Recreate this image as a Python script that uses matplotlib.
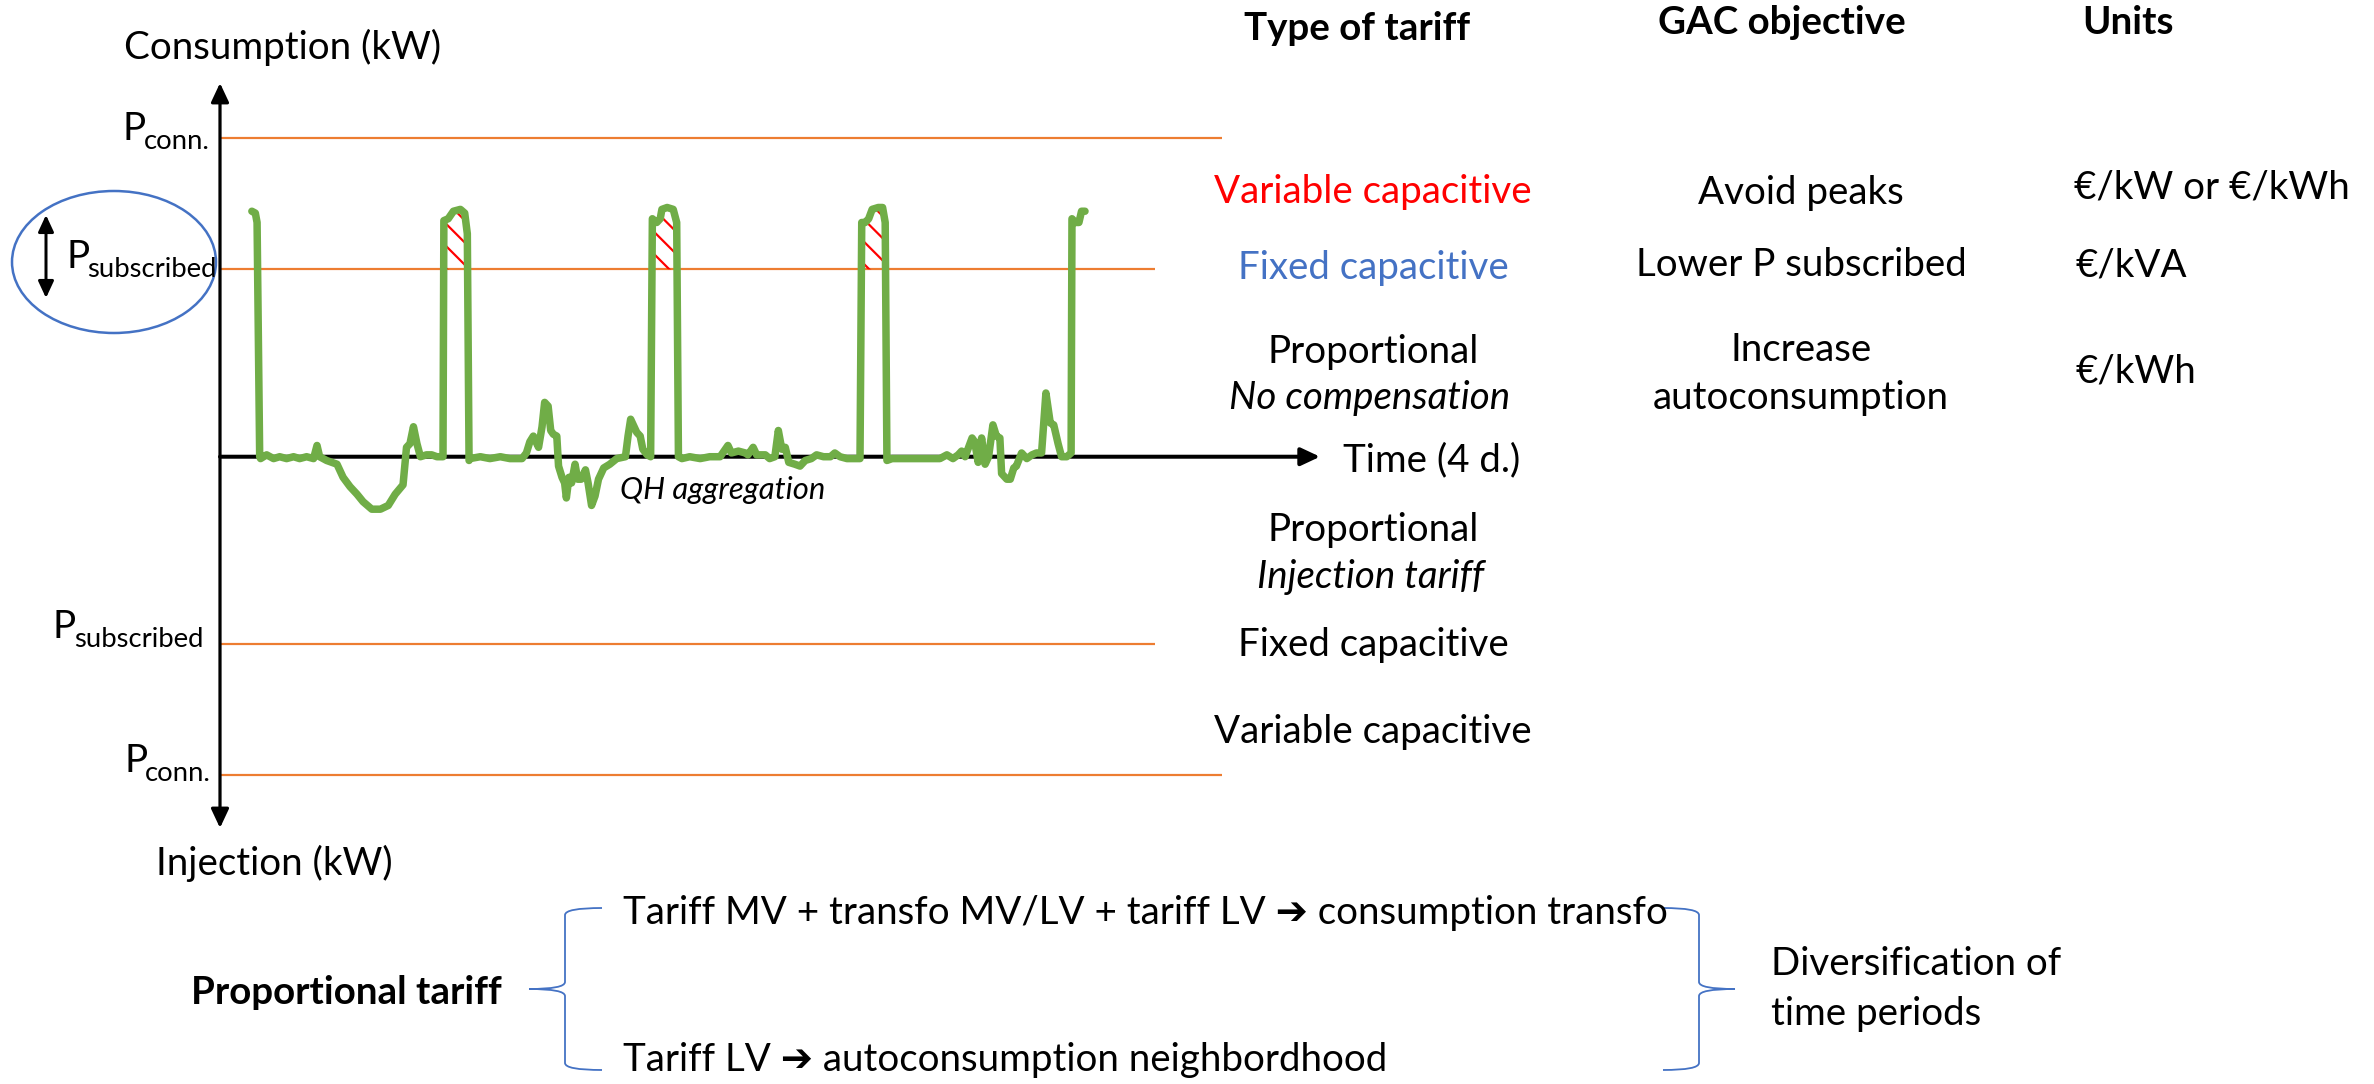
import matplotlib
matplotlib.use("Agg")
import matplotlib.pyplot as plt
from matplotlib.patches import Ellipse, PathPatch
from matplotlib.path import Path
import numpy as np

DPI = 200
W, H = 2374, 1084

plt.rcParams['font.family'] = ['Lato', 'DejaVu Sans']
plt.rcParams['hatch.color'] = 'red'
plt.rcParams['hatch.linewidth'] = 2.2 * 72 / DPI


def pt(px):
    return px * 72 / DPI


# ---------------- data ----------------
t_hours = [0.1, 0.5, 0.7, 1.0, 1.1, 1.8, 2.6, 3.3, 4.1, 4.9, 5.6, 6.4, 7.2, 7.6, 7.9,
           8.7, 9.9, 10.6, 11.4, 12.2, 12.9, 13.9, 14.9, 15.8, 16.6, 17.5, 17.9, 18.3,
           18.7, 19.1, 19.5, 20.2, 20.8, 21.4, 22.1, 22.2, 22.7, 23.3, 24.1, 24.6, 24.9,
           25.1, 25.2, 26.4, 27.5, 28.7, 29.8, 31.2, 31.7, 32.1, 32.5, 33.1, 33.5, 33.8,
           34.2, 34.5, 34.8, 35.2, 35.4, 35.8, 36.1, 36.3, 36.6, 36.9, 37.3, 37.6, 38.0,
           38.5, 38.8, 39.2, 39.6, 40.0, 40.6, 41.3, 42.1, 43.1, 43.4, 43.7, 44.0, 44.4,
           44.8, 45.1, 45.6, 46.0, 46.2, 46.7, 47.1, 47.3, 47.9, 48.6, 49.0, 49.2, 49.6,
           50.5, 51.7, 52.8, 54.0, 54.6, 54.9, 55.3, 56.1, 56.9, 57.2, 57.8, 58.2, 59.2,
           59.7, 60.3, 60.7, 61.1, 61.5, 61.9, 62.6, 63.2, 63.8, 64.5, 65.1, 65.9, 66.7,
           67.2, 67.8, 68.6, 70.1, 70.3, 70.7, 71.1, 71.5, 72.2, 72.7, 73.0, 73.2, 73.8,
           74.7, 75.9, 77.0, 78.2, 79.3, 80.1, 80.8, 81.4, 81.8, 82.2, 82.6, 83.0, 83.3,
           83.7, 84.1, 84.5, 84.9, 85.4, 85.8, 86.2, 86.4, 87.0, 87.4, 87.8, 88.1, 88.7,
           89.3, 89.9, 90.4, 91.0, 91.5, 92.0, 92.4, 92.9, 93.3, 93.9, 94.4, 94.5, 94.9,
           95.3, 95.6, 96.0]
power_kw = [13.1, 13.0, 12.5, 0.0, -0.1, 0.1, -0.1, 0.0, -0.1, 0.0, -0.1, 0.0, -0.1, 0.6, 0.0,
            -0.2, -0.4, -1.1, -1.6, -2.0, -2.4, -2.8, -2.8, -2.6, -2.0, -1.5, 0.5, 0.7,
            1.6, 0.7, 0.0, 0.1, 0.1, 0.0, 0.0, 12.6, 12.7, 13.1, 13.2, 13.0, 11.9,
            -0.2, -0.1, 0.0, -0.1, 0.0, -0.1, -0.1, 0.2, 0.8, 1.1, 0.5, 1.6, 2.9,
            2.7, 1.4, 1.2, 1.1, -0.5, -1.1, -1.4, -2.2, -1.1, -1.4, -0.4, -1.2, -1.2,
            -0.7, -1.4, -2.6, -2.1, -1.2, -0.6, -0.4, -0.1, 0.0, 1.1, 2.0, 1.7, 1.3,
            1.1, 0.4, 0.1, 0.0, 12.7, 12.5, 12.7, 13.2, 13.3, 13.2, 12.5, 0.0, -0.1,
            0.0, -0.1, 0.0, 0.0, 0.4, 0.6, 0.2, 0.3, 0.2, 0.1, 0.5, 0.1, 0.1,
            -0.1, 0.0, 1.4, 0.4, 0.5, -0.3, -0.4, -0.5, -0.2, -0.1, 0.1, 0.0, 0.0,
            0.2, 0.0, -0.1, -0.1, 12.5, 12.5, 12.7, 13.2, 13.3, 13.3, 12.5, -0.2, -0.1,
            -0.1, -0.1, -0.1, -0.1, -0.1, 0.1, -0.1, 0.1, 0.3, 0.0, 0.5, 1.0, 0.8,
            -0.3, 1.0, -0.4, 0.0, 1.7, 1.1, 1.0, -0.9, -1.2, -1.2, -0.6, -0.5, 0.2,
            -0.1, 0.1, 0.2, 0.2, 3.4, 1.8, 1.7, 0.7, 0.0, 0.0, 0.2, 12.7, 12.5,
            12.5, 13.1, 13.1]
P_SUBSCRIBED = 10.0
P_CONNECTION = 17.0
hatched_peaks = [(21.0, 26.0), (45.0, 50.0), (69.0, 74.0)]

col_headers = ['Type of tariff', 'GAC objective', 'Units']
tariff_consumption = ['Variable capacitive', 'Fixed capacitive', 'Proportional']
tariff_injection = ['Proportional', 'Fixed capacitive', 'Variable capacitive']
gac_objectives = ['Avoid peaks', 'Lower P subscribed', 'Increase\nautoconsumption']
units = ['€/kW or €/kWh', '€/kVA', '€/kWh']
bottom_lines = ['Tariff MV + transfo MV/LV + tariff LV \u2794 consumption transfo',
                'Tariff LV \u2794 autoconsumption neighbordhood']

GREEN = '#70AD47'
ORANGE = '#ED7D31'
BLUE = '#4472C4'
RED = '#FF0000'

# ---------------- figure ----------------
fig = plt.figure(figsize=(W / DPI, H / DPI), dpi=DPI)
fig.patch.set_facecolor('white')
bg = fig.add_axes([0, 0, 1, 1])
bg.set_xlim(0, W)
bg.set_ylim(H, 0)
bg.axis('off')

# chart axes: pixel box x 220..1330, y 81..833
ax = fig.add_axes([220 / W, (H - 833) / H, 1110 / W, 752 / H])
ax.set_xlim(-3.568, 124.2)
ax.set_ylim(-20.08, 20.05)
ax.axis('off')
ax.patch.set_alpha(0)

t = np.array(t_hours)
p = np.array(power_kw)
x0 = ax.get_xlim()[0]

# reference levels
ax.hlines([P_CONNECTION, -P_CONNECTION], x0, 111.8, color=ORANGE, lw=pt(2.2), zorder=1)
ax.hlines([P_SUBSCRIBED, -P_SUBSCRIBED], x0, 104.1, color=ORANGE, lw=pt(2.2), zorder=1)

# axes arrows
ax.annotate('', xy=(x0, 19.94), xytext=(x0, -19.81), annotation_clip=False,
            arrowprops=dict(arrowstyle='<|-|>,head_length=%f,head_width=%f' % (pt(16), pt(7.5)),
                            lw=pt(3.2), color='black', shrinkA=0, shrinkB=0, mutation_scale=1),
            zorder=5)
ax.annotate('', xy=(123.05, 0), xytext=(x0, 0), annotation_clip=False,
            arrowprops=dict(arrowstyle='-|>,head_length=%f,head_width=%f' % (pt(16), pt(7.5)),
                            lw=pt(4), color='black', shrinkA=0, shrinkB=0, mutation_scale=1),
            zorder=2)

# hatched overshoot
mask = np.zeros_like(t, dtype=bool)
for a, b in hatched_peaks:
    mask |= (t >= a) & (t <= b)
ax.fill_between(t, P_SUBSCRIBED, p, where=mask & (p >= P_SUBSCRIBED - 2), interpolate=True,
                facecolor='none', edgecolor=RED, hatch='\\\\\\', linewidth=0, zorder=3)

# load curve
ax.plot(t, p, color=GREEN, lw=pt(7.5), solid_joinstyle='round', solid_capstyle='round', zorder=4)

# ---------------- texts ----------------
FS = pt(38.5)
FS_SUB = pt(27.5)


def ptext(x, y_base, sub):
    bg.text(x, y_base, 'P', fontsize=FS, va='baseline', ha='left')
    bg.text(x + 21, y_base + 9, sub, fontsize=FS_SUB, va='baseline', ha='left')


bg.text(283, 47, 'Consumption (kW)', fontsize=FS, ha='center', va='center')
bg.text(274, 863, 'Injection (kW)', fontsize=FS, ha='center', va='center')
ptext(123, 140, 'conn.')
ptext(66, 268, 'subscribed')
ptext(53, 638, 'subscribed')
ptext(124, 772, 'conn.')

bg.add_patch(Ellipse((114, 262), 204, 142, fill=False, ec=BLUE, lw=pt(2.5)))
bg.annotate('', xy=(46, 215), xytext=(46, 298),
            arrowprops=dict(arrowstyle='<|-|>,head_length=%f,head_width=%f' % (pt(14), pt(6.5)),
                            lw=pt(3), color='black', shrinkA=0, shrinkB=0, mutation_scale=1))

bg.text(1343, 460, 'Time (4 d.)', fontsize=FS, ha='left', va='center')
bg.text(723, 490, 'QH aggregation', fontsize=pt(31), style='italic', ha='center', va='center')

# column headers
for txt, x, y in zip(col_headers, [1357, 1782, 2128], [28, 23, 23]):
    bg.text(x, y, txt, fontsize=FS, fontweight='bold', ha='center', va='center')

# tariff types (consumption side)
for txt, y, c in zip(tariff_consumption, [192, 268, 352], [RED, BLUE, 'black']):
    bg.text(1373, y, txt, fontsize=FS, color=c, ha='center', va='center')
bg.text(1370, 398, 'No compensation', fontsize=FS, style='italic', ha='center', va='center')

# tariff types (injection side)
for txt, y in zip(tariff_injection, [530, 645, 732]):
    bg.text(1373, y, txt, fontsize=FS, ha='center', va='center')
bg.text(1371, 577, 'Injection tariff', fontsize=FS, style='italic', ha='center', va='center')

# objectives
for txt, y in zip(gac_objectives, [193, 265, 374]):
    bg.text(1801, y, txt, fontsize=FS, ha='center', va='center', linespacing=1.42)

# units
bg.text(2212, 188, units[0], fontsize=FS, ha='center', va='center')
bg.text(2075, 265, units[1], fontsize=FS, ha='left', va='center')
bg.text(2075, 372, units[2], fontsize=FS, ha='left', va='center')

# bottom
bg.text(346, 992, 'Proportional tariff', fontsize=FS, fontweight='bold', ha='center', va='center')
bg.text(623, 913, bottom_lines[0], fontsize=FS, ha='left', va='center')
bg.text(623, 1060, bottom_lines[1], fontsize=FS, ha='left', va='center')
bg.text(1771, 989, 'Diversification of\ntime periods', fontsize=FS, ha='left', va='center',
        linespacing=1.48)


def brace(x_spine, x_arm, x_tip, y_top, y_mid, y_bot, r=7):
    verts = [(x_arm, y_top), (x_spine, y_top), (x_spine, y_top + r),
             (x_spine, y_mid - r), (x_spine, y_mid), (x_tip, y_mid),
             (x_spine, y_mid), (x_spine, y_mid + r),
             (x_spine, y_bot - r), (x_spine, y_bot), (x_arm, y_bot)]
    codes = [Path.MOVETO, Path.CURVE3, Path.CURVE3,
             Path.LINETO, Path.CURVE3, Path.CURVE3,
             Path.CURVE3, Path.CURVE3,
             Path.LINETO, Path.CURVE3, Path.CURVE3]
    bg.add_patch(PathPatch(Path(verts, codes), fill=False, ec=BLUE, lw=pt(1.8)))


brace(565, 602, 529, 908, 989, 1070)
brace(1699, 1663, 1735, 908, 989, 1070)

fig.savefig('out.png', dpi=DPI, facecolor='white')
